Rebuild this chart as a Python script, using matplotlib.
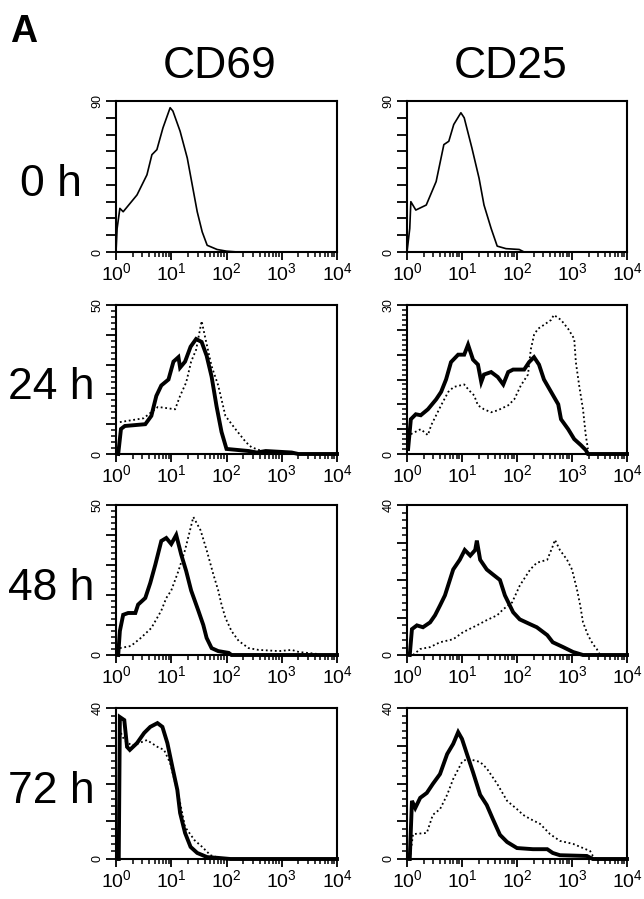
import matplotlib
matplotlib.use('Agg')
import matplotlib.pyplot as plt
import numpy as np
from matplotlib.ticker import MultipleLocator, LogLocator, FuncFormatter, NullFormatter

plt.rcParams['font.family'] = ['Liberation Sans', 'DejaVu Sans']
plt.rcParams['mathtext.fontset'] = 'custom'
plt.rcParams['mathtext.rm'] = 'Liberation Sans'
plt.rcParams['mathtext.it'] = 'Liberation Sans:italic'
plt.rcParams['mathtext.bf'] = 'Liberation Sans:bold'

# histogram traces: log10(fluorescence), cell counts
cd69_0h_log = [0.0, 0.02, 0.07, 0.13, 0.38, 0.56, 0.65, 0.74, 0.85, 0.98, 1.03, 1.16, 1.29, 1.38, 1.47, 1.56, 1.65, 1.83, 2.0, 2.2, 4.0]
cd69_0h_cnt = [0, 14, 26, 24, 34, 46, 58, 61, 74, 86, 84, 72, 56, 40, 24, 12, 4, 1.5, 0.5, 0, 0]

cd25_0h_log = [0.0, 0.05, 0.07, 0.16, 0.35, 0.53, 0.67, 0.76, 0.85, 0.98, 1.04, 1.18, 1.31, 1.4, 1.53, 1.64, 1.8, 2.04, 2.13, 4.0]
cd25_0h_cnt = [0, 14, 30, 25, 28, 42, 64, 66, 76, 83, 80, 62, 44, 28, 14, 3.5, 2, 1.5, 0, 0]

cd69_24h_log = [0.04, 0.09, 0.16, 0.53, 0.64, 0.73, 0.82, 0.95, 1.04, 1.13, 1.16, 1.25, 1.35, 1.45, 1.55, 1.64, 1.73, 1.82, 1.91, 2.0, 2.4, 2.55, 2.71, 2.9, 3.18, 3.3, 4.0]
cd69_24h_cnt = [0, 8.4, 9.4, 10, 12.8, 19.5, 23, 25, 31, 32.5, 29, 31, 36, 38.6, 37.6, 33, 26, 16, 7.4, 1.7, 1, 0.5, 1, 0.8, 0.5, 0, 0]
cd69_24h_ctl_log = [0.07, 0.5, 0.76, 1.07, 1.16, 1.27, 1.36, 1.45, 1.55, 1.62, 1.73, 1.85, 1.98, 2.16, 2.35, 2.45, 2.71, 3.0]
cd69_24h_ctl_cnt = [10.7, 12, 15.8, 15, 19.5, 24, 31, 35, 44.6, 38.6, 29.5, 23, 12.8, 8.4, 4, 2.3, 0.5, 0]

cd25_24h_log = [0.02, 0.07, 0.16, 0.25, 0.38, 0.53, 0.62, 0.71, 0.8, 0.93, 1.04, 1.11, 1.2, 1.29, 1.35, 1.4, 1.53, 1.65, 1.75, 1.84, 1.93, 2.02, 2.13, 2.22, 2.31, 2.4, 2.49, 2.62, 2.75, 2.8, 2.93, 3.04, 3.16, 3.25, 3.29, 4.0]
cd25_24h_cnt = [1, 7, 8, 7.8, 9, 11, 12.5, 15, 18.5, 20, 20, 22, 19, 18, 14.5, 16, 16.5, 15.5, 14, 16.5, 17, 17, 17, 18.5, 19.5, 18, 15, 12.5, 10, 7, 5, 3, 1.8, 0.8, 0, 0]
cd25_24h_ctl_log = [0.07, 0.25, 0.38, 0.44, 0.62, 0.75, 0.85, 1.04, 1.13, 1.22, 1.29, 1.4, 1.53, 1.65, 1.84, 1.95, 2.07, 2.2, 2.25, 2.31, 2.38, 2.49, 2.62, 2.67, 2.8, 2.93, 3.04, 3.07, 3.13, 3.2, 3.25, 3.29]
cd25_24h_ctl_cnt = [4, 5, 3.8, 5.8, 9.8, 12.5, 13.5, 14, 12.8, 11.8, 9.8, 9, 8.4, 8.8, 9.8, 11, 13.8, 16, 21, 24, 25.2, 26, 27, 28, 27, 25.2, 23.2, 18.5, 13.8, 9, 3.8, 1]

cd69_48h_log = [0.04, 0.07, 0.13, 0.22, 0.35, 0.4, 0.53, 0.62, 0.71, 0.82, 0.91, 1.0, 1.09, 1.18, 1.27, 1.36, 1.49, 1.58, 1.64, 1.73, 1.85, 2.04, 2.09, 4.0]
cd69_48h_cnt = [0, 8, 13.4, 14, 14, 16.8, 19, 24, 30, 38, 39, 37, 40, 33.5, 28, 21.5, 14.8, 10, 5.7, 2.3, 1.3, 0.7, 0, 0]
cd69_48h_ctl_log = [0.07, 0.27, 0.45, 0.64, 0.82, 0.91, 1.0, 1.13, 1.25, 1.4, 1.53, 1.64, 1.76, 1.85, 1.91, 1.98, 2.09, 2.22, 2.4, 2.58, 2.95, 3.18, 3.31, 3.67]
cd69_48h_ctl_cnt = [2.3, 3, 5.7, 9, 14.8, 19, 21.5, 28, 35, 46, 41.6, 35, 27, 21.5, 16.8, 12.4, 8, 4.7, 2.3, 1.7, 1.3, 1.7, 1, 0.3]

cd25_48h_log = [0.05, 0.09, 0.18, 0.29, 0.42, 0.51, 0.6, 0.69, 0.84, 0.96, 1.05, 1.15, 1.24, 1.27, 1.33, 1.45, 1.56, 1.69, 1.78, 1.93, 2.05, 2.24, 2.36, 2.55, 2.65, 2.84, 3.02, 3.2, 4.0]
cd25_48h_cnt = [0, 6.9, 7.9, 7.4, 8.7, 10.6, 13.2, 15.9, 22.8, 25.4, 28, 26.5, 28, 30.5, 25.4, 22.8, 21.5, 20, 15.9, 11.4, 9.5, 8.2, 7.4, 5.3, 3.4, 2.1, 0.8, 0, 0]
cd25_48h_ctl_log = [0.11, 0.24, 0.42, 0.6, 0.84, 1.02, 1.27, 1.45, 1.64, 1.75, 1.91, 2.05, 2.24, 2.36, 2.55, 2.65, 2.69, 2.78, 2.91, 3.0, 3.09, 3.15, 3.2, 3.29, 3.38, 3.45, 3.51]
cd25_48h_ctl_cnt = [0, 1.6, 2.1, 3.4, 4.2, 6.1, 7.9, 9.3, 10.6, 12.2, 14, 18.5, 22.8, 24.6, 25.4, 29, 30.7, 28, 25.4, 22.8, 17.5, 13.2, 8.7, 5.3, 2.9, 1.6, 0]

cd69_72h_log = [0.05, 0.07, 0.15, 0.2, 0.25, 0.38, 0.51, 0.62, 0.75, 0.84, 0.93, 1.02, 1.11, 1.16, 1.25, 1.35, 1.47, 1.65, 1.84, 2.07, 4.0]
cd69_72h_cnt = [0, 37.6, 36.8, 29.7, 28.9, 30.7, 33.4, 35, 36, 35, 30.7, 24.4, 18.3, 12.2, 6.9, 3.2, 1.6, 0.5, 0.3, 0, 0]
cd69_72h_ctl_log = [0.05, 0.07, 0.15, 0.29, 0.56, 0.75, 0.87, 0.98, 1.15, 1.25, 1.42, 1.56, 1.71, 1.93]
cd69_72h_ctl_cnt = [0, 34, 31.5, 30, 31.5, 29.7, 28.9, 25.4, 15.6, 8.5, 5, 3.2, 1, 0]

cd25_72h_log = [0.05, 0.09, 0.15, 0.24, 0.36, 0.47, 0.6, 0.73, 0.84, 0.93, 1.0, 1.09, 1.2, 1.33, 1.45, 1.56, 1.69, 1.82, 2.0, 2.29, 2.55, 2.65, 2.78, 3.27, 3.38, 4.0]
cd25_72h_cnt = [0, 15.4, 13.5, 16.2, 17.5, 19.9, 22.5, 27.8, 30.5, 33.6, 31.8, 27.8, 23, 17, 14.3, 10.6, 6.4, 4.5, 2.9, 2.6, 2.6, 1.6, 1, 0.8, 0, 0]
cd25_72h_ctl_log = [0.05, 0.11, 0.36, 0.47, 0.6, 0.73, 0.84, 1.0, 1.09, 1.2, 1.33, 1.45, 1.64, 1.82, 2.0, 2.11, 2.24, 2.42, 2.6, 2.78, 3.02, 3.2, 3.33, 3.38, 3.45]
cd25_72h_ctl_cnt = [0, 6.6, 6.9, 11.7, 13.2, 17, 21.2, 25.7, 26.5, 26.2, 25.7, 24, 19.9, 15.4, 13.2, 11.7, 10.6, 9.3, 6.6, 4.8, 4, 2.9, 2.1, 0.8, 0]

markers = ['CD69', 'CD25']
times = ['0 h', '24 h', '48 h', '72 h']
cd69_ymax = [90, 50, 50, 40]
cd25_ymax = [90, 30, 40, 40]

panels = {
    (0, 0): [(cd69_0h_log, cd69_0h_cnt, 'single')],
    (0, 1): [(cd25_0h_log, cd25_0h_cnt, 'single')],
    (1, 0): [(cd69_24h_ctl_log, cd69_24h_ctl_cnt, 'dot'), (cd69_24h_log, cd69_24h_cnt, 'thick')],
    (1, 1): [(cd25_24h_ctl_log, cd25_24h_ctl_cnt, 'dot'), (cd25_24h_log, cd25_24h_cnt, 'thick')],
    (2, 0): [(cd69_48h_ctl_log, cd69_48h_ctl_cnt, 'dot'), (cd69_48h_log, cd69_48h_cnt, 'thick')],
    (2, 1): [(cd25_48h_ctl_log, cd25_48h_ctl_cnt, 'dot'), (cd25_48h_log, cd25_48h_cnt, 'thick')],
    (3, 0): [(cd69_72h_ctl_log, cd69_72h_ctl_cnt, 'dot'), (cd69_72h_log, cd69_72h_cnt, 'thick')],
    (3, 1): [(cd25_72h_ctl_log, cd25_72h_ctl_cnt, 'dot'), (cd25_72h_log, cd25_72h_cnt, 'thick')],
}

W, H = 644, 899
fig = plt.figure(figsize=(W / 100, H / 100), dpi=100)

col_x = [116, 407]
col_w = [221, 220]
row_top = [101, 305, 505, 708]
row_bot = [252, 454, 655, 859]

styles = {
    'single': dict(color='black', lw=1.2, ls='-'),
    'thick': dict(color='black', lw=2.8, ls='-', solid_joinstyle='miter'),
    'dot': dict(color='black', lw=1.3, ls=(0, (1, 1.5))),
}

for r in range(4):
    for c in range(2):
        ax = fig.add_axes([col_x[c] / W, 1 - row_bot[r] / H, col_w[c] / W, (row_bot[r] - row_top[r]) / H])
        ymax = cd69_ymax[r] if c == 0 else cd25_ymax[r]
        for lg, cnt, st in panels[(r, c)]:
            ax.plot(10 ** np.array(lg), cnt, clip_on=False, **styles[st])
        ax.set_xscale('log')
        ax.set_xlim(1, 1e4)
        ax.set_ylim(0, ymax)
        for s in ax.spines.values():
            s.set_linewidth(1.5)
        if ymax == 90:
            major, minor = 10, None
        elif ymax == 30:
            major, minor = 5, 1
        else:
            major, minor = 10, 2
        ax.yaxis.set_major_locator(MultipleLocator(major))
        if minor:
            ax.yaxis.set_minor_locator(MultipleLocator(minor))
        ax.yaxis.set_major_formatter(FuncFormatter(
            lambda v, p, m=ymax: '%d' % v if (abs(v) < 1e-6 or abs(v - m) < 1e-6) else ''))
        ax.xaxis.set_major_locator(LogLocator(base=10, numticks=10))
        ax.xaxis.set_minor_locator(LogLocator(base=10, subs=np.arange(2, 10), numticks=20))
        ax.xaxis.set_minor_formatter(NullFormatter())
        ax.xaxis.set_major_formatter(FuncFormatter(lambda v, p: r'$10^{%d}$' % round(np.log10(v))))
        ax.tick_params(axis='y', which='major', direction='out', length=7, width=1.3,
                       labelsize=9, labelrotation=90, pad=2)
        ax.tick_params(axis='y', which='minor', direction='out', length=3.5, width=1.1)
        ax.tick_params(axis='x', which='major', direction='out', length=6, width=1.3,
                       labelsize=14, pad=1)
        ax.tick_params(axis='x', which='minor', direction='out', length=3.5, width=1.1)
        for lab in ax.get_yticklabels():
            lab.set_verticalalignment('center')

    fig.text(51 / W, 1 - ((row_top[r] + row_bot[r]) / 2 + 8) / H, times[r],
             fontsize=32, ha='center', va='center')

fig.text(220 / W, 1 - 67 / H, markers[0], fontsize=32, ha='center', va='center')
fig.text(511 / W, 1 - 67 / H, markers[1], fontsize=32, ha='center', va='center')
fig.text(10 / W, 1 - 42 / H, 'A', fontsize=27, fontweight='bold', ha='left', va='baseline')

fig.savefig('out.png', dpi=100, facecolor='white')
